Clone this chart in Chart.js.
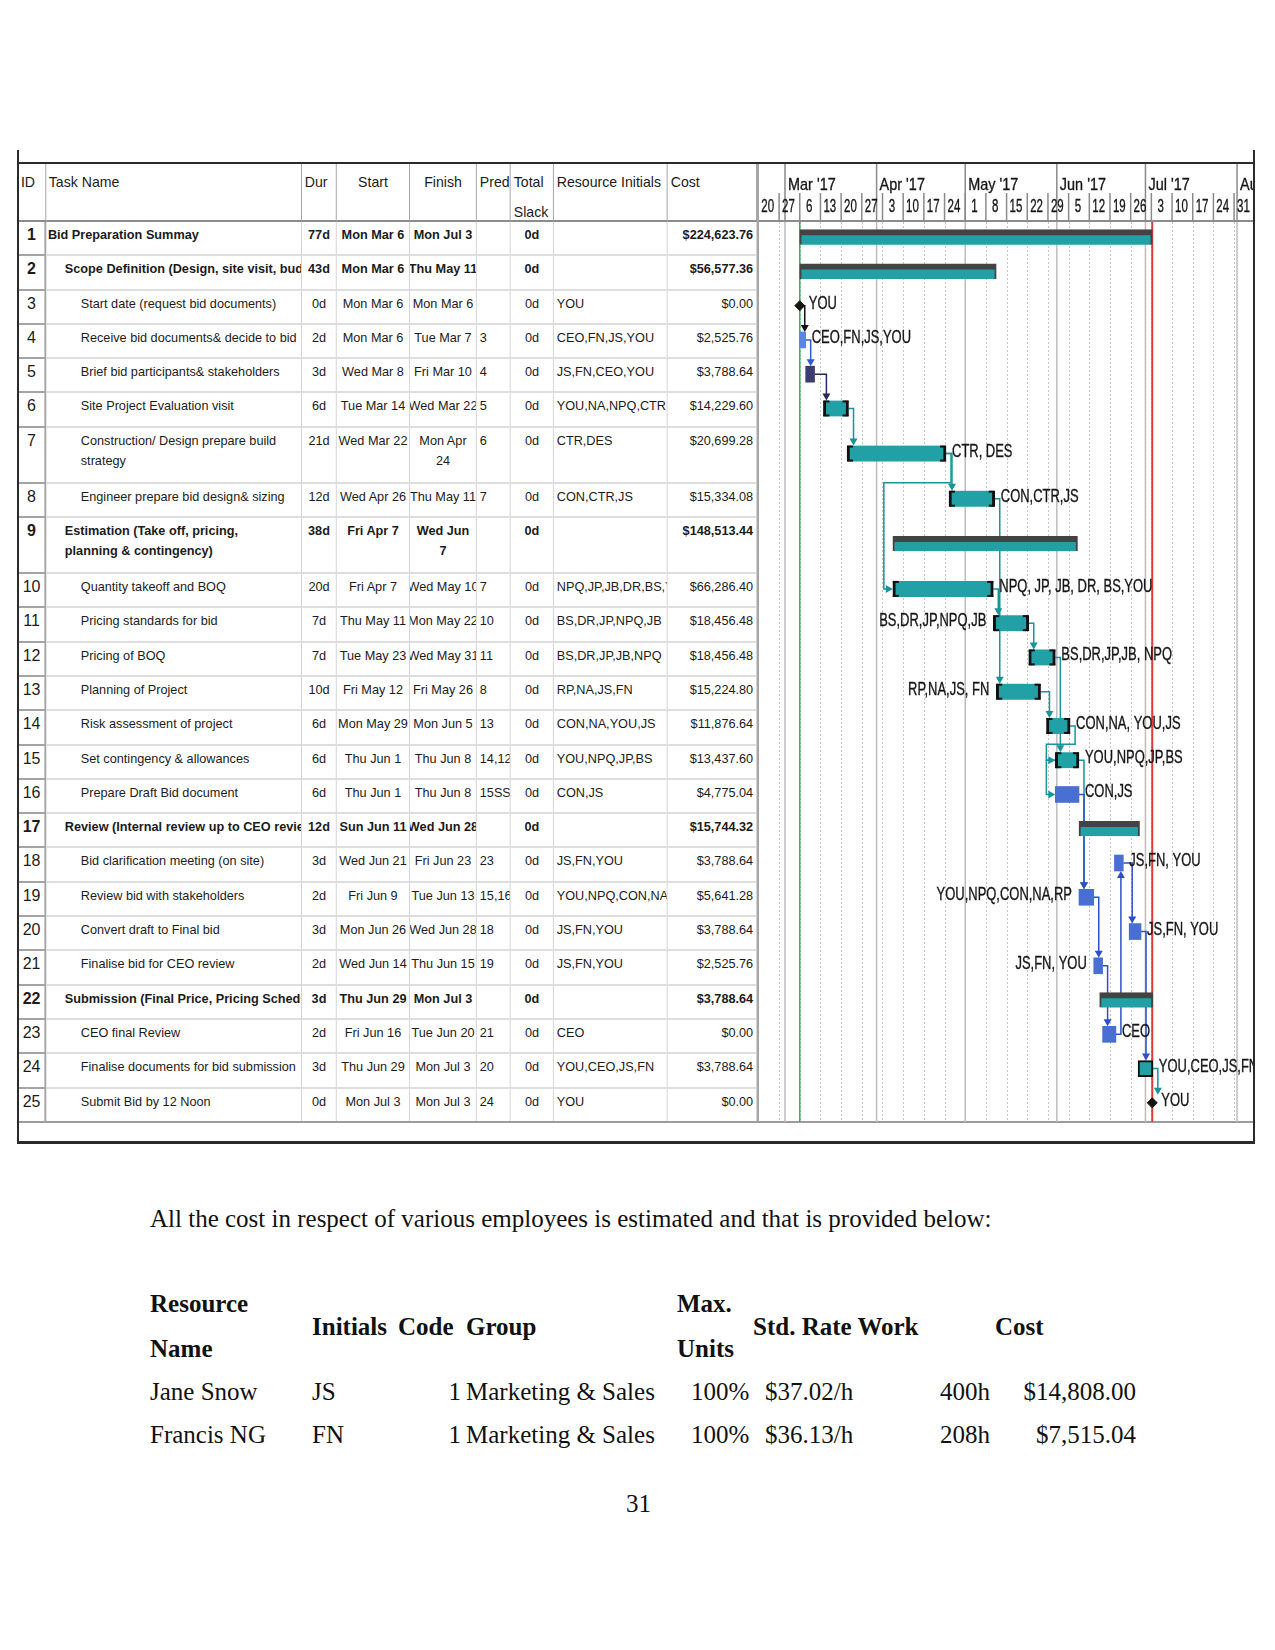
<!DOCTYPE html>
<html>
<head>
<meta charset="utf-8">
<title>Bid preparation schedule</title>
<script src="https://cdn.jsdelivr.net/npm/chart.js@4.4.1/dist/chart.umd.min.js"></script>
<style>
  html, body { margin: 0; padding: 0; background: #fff; }
  body { position: relative; width: 1275px; height: 1650px; overflow: hidden; font-family: "Liberation Sans", Arial, sans-serif; color: #1b1b1b; }
  .line { position: absolute; background: #2a2a2a; }
  #grid { position: absolute; left: 19px; top: 164px; width: 785.11px; transform: scaleX(0.94); transform-origin: 0 0; }
  #body { position: relative; }
  .row { display: flex; box-sizing: border-box; }
  .cell { box-sizing: border-box; overflow: hidden; white-space: nowrap; border-right: 1px solid #d2d2d2; border-bottom: 2px solid #dedede; padding: 3px 3px 0 3px; font-size: 13.5px; line-height: 20px; }
  .cell.name { padding-right: 8px; }
  .head .cell { border-right-color: #a0a0a0; border-bottom: 2px solid #8c8c8c; font-size: 15px; line-height: 30px; padding-top: 3px; }
  .head .cell.two { white-space: normal; }
  .cell.id { text-align: center; font-size: 17px; border-right: 2px solid #a4a4a4; border-bottom: 2px solid #a4a4a4; padding: 3px 0 0; }
  .cell.mid { display: flex; justify-content: center; padding: 3px 4px 0; }
  .cell.mid span { text-align: center; }
  .cell.right { text-align: right; }
  .row.sum .cell { font-weight: bold; }
  .row.wrap .cell.name, .row.wrap .cell.fin { white-space: normal; }
  #gantt { position: absolute; left: 759px; top: 164px; }
  .txt { position: absolute; font-family: "Liberation Serif", "Times New Roman", serif; font-size: 25px; line-height: 30px; white-space: nowrap; color: #111; }
  .txt.b { font-weight: bold; }
</style>
</head>
<body>
<div class="line" style="left:17px;top:150px;width:2px;height:994px"></div>
<div class="line" style="left:1253px;top:150px;width:2px;height:994px"></div>
<div class="line" style="left:17px;top:162px;width:1238px;height:2px"></div>
<div class="line" style="left:17px;top:1141px;width:1238px;height:3px"></div>

<div id="grid">
  <div class="row head" id="head"></div>
  <div id="body"></div>
</div>
<div class="line" style="left:757px;top:164px;width:2px;height:959px;background:#a6a6a6"></div>
<div class="line" style="left:19px;top:1121px;width:1234px;height:2px;background:#9c9c9c"></div>
<canvas id="gantt"></canvas>

<div id="below"></div>

<script>
// ---- schedule table ----
const taskIds = [1, 2, 3, 4, 5, 6, 7, 8, 9, 10, 11, 12, 13, 14, 15, 16, 17, 18, 19, 20, 21, 22, 23, 24, 25];
const taskNames = [
  'Bid Preparation  Summay',
  'Scope Definition (Design, site visit, budget)',
  'Start date (request bid documents)',
  'Receive bid documents& decide to bid',
  'Brief bid participants& stakeholders',
  'Site Project Evaluation visit',
  'Construction/ Design prepare build strategy',
  'Engineer prepare bid design& sizing',
  'Estimation (Take off, pricing, planning & contingency)',
  'Quantity takeoff and BOQ',
  'Pricing standards for bid',
  'Pricing of BOQ',
  'Planning of Project',
  'Risk assessment of project',
  'Set contingency & allowances',
  'Prepare Draft Bid document',
  'Review (Internal review up to CEO review)',
  'Bid clarification meeting (on site)',
  'Review bid with stakeholders',
  'Convert draft to Final bid',
  'Finalise bid for CEO review',
  'Submission (Final Price, Pricing Schedule)',
  'CEO final Review',
  'Finalise documents for bid submission',
  'Submit Bid by 12 Noon'
];
const outlineLevel = [0, 1, 2, 2, 2, 2, 2, 2, 1, 2, 2, 2, 2, 2, 2, 2, 1, 2, 2, 2, 2, 1, 2, 2, 2];
const durations = ['77d', '43d', '0d', '2d', '3d', '6d', '21d', '12d', '38d', '20d', '7d', '7d', '10d', '6d', '6d', '6d', '12d', '3d', '2d', '3d', '2d', '3d', '2d', '3d', '0d'];
const startText = ['Mon Mar 6', 'Mon Mar 6', 'Mon Mar 6', 'Mon Mar 6', 'Wed Mar 8', 'Tue Mar 14', 'Wed Mar 22', 'Wed Apr 26', 'Fri Apr 7', 'Fri Apr 7',
  'Thu May 11', 'Tue May 23', 'Fri May 12', 'Mon May 29', 'Thu Jun 1', 'Thu Jun 1', 'Sun Jun 11', 'Wed Jun 21', 'Fri Jun 9', 'Mon Jun 26',
  'Wed Jun 14', 'Thu Jun 29', 'Fri Jun 16', 'Thu Jun 29', 'Mon Jul 3'];
const finishText = ['Mon Jul 3', 'Thu May 11', 'Mon Mar 6', 'Tue Mar 7', 'Fri Mar 10', 'Wed Mar 22', 'Mon Apr 24', 'Thu May 11', 'Wed Jun 7', 'Wed May 10',
  'Mon May 22', 'Wed May 31', 'Fri May 26', 'Mon Jun 5', 'Thu Jun 8', 'Thu Jun 8', 'Wed Jun 28', 'Fri Jun 23', 'Tue Jun 13', 'Wed Jun 28',
  'Thu Jun 15', 'Mon Jul 3', 'Tue Jun 20', 'Mon Jul 3', 'Mon Jul 3'];
const predText = ['', '', '', '3', '4', '5', '6', '7', '', '7', '10', '11', '8', '13', '14,12', '15SS', '', '23', '15,16', '18', '19', '', '21', '20', '24'];
const totalSlack = ['0d', '0d', '0d', '0d', '0d', '0d', '0d', '0d', '0d', '0d', '0d', '0d', '0d', '0d', '0d', '0d', '0d', '0d', '0d', '0d', '0d', '0d', '0d', '0d', '0d'];
const resourceText = ['', '', 'YOU', 'CEO,FN,JS,YOU', 'JS,FN,CEO,YOU', 'YOU,NA,NPQ,CTR', 'CTR,DES', 'CON,CTR,JS', '', 'NPQ,JP,JB,DR,BS,YOU',
  'BS,DR,JP,NPQ,JB', 'BS,DR,JP,JB,NPQ', 'RP,NA,JS,FN', 'CON,NA,YOU,JS', 'YOU,NPQ,JP,BS', 'CON,JS', '', 'JS,FN,YOU', 'YOU,NPQ,CON,NA,RP', 'JS,FN,YOU',
  'JS,FN,YOU', '', 'CEO', 'YOU,CEO,JS,FN', 'YOU'];
const costText = ['$224,623.76', '$56,577.36', '$0.00', '$2,525.76', '$3,788.64', '$14,229.60', '$20,699.28', '$15,334.08', '$148,513.44', '$66,286.40',
  '$18,456.48', '$18,456.48', '$15,224.80', '$11,876.64', '$13,437.60', '$4,775.04', '$15,744.32', '$3,788.64', '$5,641.28', '$3,788.64',
  '$2,525.76', '$3,788.64', '$0.00', '$3,788.64', '$0.00'];

// ---- gantt bars: days counted from Mar 1 2017 ----
const taskMode = ['summary', 'summary', 'milestone', 'auto', 'auto', 'manual', 'manual', 'manual', 'summary', 'manual',
  'manual', 'manual', 'manual', 'manual', 'manual', 'auto', 'summary', 'auto', 'auto', 'auto',
  'auto', 'summary', 'auto', 'manual', 'milestone'];
const barStart = [5, 5, 5, 5, 7, 13, 21, 55.5, 36.5, 36.5, 70.5, 82.5, 71.5, 88.5, 91.5, 91.5, 99.5, 111.5, 99.5, 116.5, 104.5, 106.5, 107.5, 119.5, 124.3];
const barEnd = [124.3, 71.5, 5, 7, 10, 21.5, 54.5, 71, 99, 70.5, 82.5, 91.5, 86.5, 96.5, 99.5, 99.5, 120, 114.5, 104.5, 120.5, 107.5, 124.5, 112, 124.5, 124.3];
const ganttLabels = ['', '', 'YOU', 'CEO,FN,JS,YOU', '', '', 'CTR, DES', 'CON,CTR,JS', '', 'NPQ, JP, JB, DR, BS,YOU',
  'BS,DR,JP,NPQ,JB', 'BS,DR,JP,JB, NPQ', 'RP,NA,JS, FN', 'CON,NA, YOU,JS', 'YOU,NPQ,JP,BS', 'CON,JS', '', 'JS,FN, YOU', 'YOU,NPQ,CON,NA,RP', 'JS,FN, YOU',
  'JS,FN, YOU', '', 'CEO', 'YOU,CEO,JS,FN', 'YOU'];
const projectStart = 5;     // Mon Mar 6
const bidDeadline = 124.3;  // Mon Jul 3

// ---- timescale ----
const weekTicks = [-9, -2, 5, 12, 19, 26, 33, 40, 47, 54, 61, 68, 75, 82, 89, 96, 103, 110, 117, 124, 131, 138, 145, 152];
const weekLabels = ['20', '27', '6', '13', '20', '27', '3', '10', '17', '24', '1', '8', '15', '22', '29', '5', '12', '19', '26', '3', '10', '17', '24', '31'];
const monthTicks = [0, 31, 61, 92, 122, 153];
const monthLabels = ["Mar '17", "Apr '17", "May '17", "Jun '17", "Jul '17", "Aug '17"];

// ---- resource cost table ----
const resNames = ['Jane Snow', 'Francis NG'];
const resInitials = ['JS', 'FN'];
const resCode = ['1', '1'];
const resGroup = ['Marketing & Sales', 'Marketing & Sales'];
const resMaxUnits = ['100%', '100%'];
const resRate = ['$37.02/h', '$36.13/h'];
const resWork = ['400h', '208h'];
const resCost = ['$14,808.00', '$7,515.04'];

// layout / style
const colWidths = [28.72, 272.34, 37.23, 77.66, 71.28, 36.17, 45.74, 121.28, 94.69];
const indentPx = [2, 20, 37];
const wrapRows = [7, 9];
const TEAL = '#21a0a5';
const BLUE = '#4a6fd3';
const barColourOverride = { 4: '#5a85e4', 5: '#3d3b70' };
const linkColourOverride = { 3: '#111111', 4: '#2f5bd6', 5: '#28275e' };
const leftLabelIds = [11, 13, 19, 21];
const boxIds = [24];
const BAR_H = 16;

function cell(text, cls, width, extra) {
  const d = document.createElement('div');
  d.className = 'cell ' + (cls || '');
  d.style.width = width + 'px';
  if (cls && cls.includes('mid')) {
    const s = document.createElement('span');
    s.textContent = text;
    d.appendChild(s);
  } else {
    d.textContent = text;
  }
  if (extra) Object.assign(d.style, extra);
  return d;
}

const head = document.getElementById('head');
head.style.height = '58px';
[['ID', ''], ['Task Name', ''], ['Dur', ''], ['Start', 'mid'], ['Finish', 'mid'], ['Predecessors', ''], ['Total Slack', 'two'], ['Resource Initials', ''], ['Cost', '']]
  .forEach((h, c) => head.appendChild(cell(h[0], h[1], colWidths[c], c === 0 ? { paddingLeft: '2px' } : null)));

const body = document.getElementById('body');
taskIds.forEach((id, i) => {
  const r = document.createElement('div');
  const isSum = taskMode[i] === 'summary';
  const wraps = wrapRows.includes(id);
  r.className = 'row' + (isSum ? ' sum' : '') + (wraps ? ' wrap' : '');
  r.style.height = (wraps ? 56 : 34.3) + 'px';
  r.appendChild(cell(String(id), 'id', colWidths[0]));
  r.appendChild(cell(taskNames[i], 'name', colWidths[1], { paddingLeft: indentPx[outlineLevel[i]] + 'px' }));
  r.appendChild(cell(durations[i], 'mid', colWidths[2]));
  r.appendChild(cell(startText[i], 'mid', colWidths[3]));
  r.appendChild(cell(finishText[i], 'mid fin', colWidths[4]));
  r.appendChild(cell(predText[i], '', colWidths[5]));
  r.appendChild(cell(totalSlack[i], 'mid', colWidths[6]));
  r.appendChild(cell(resourceText[i], '', colWidths[7]));
  r.appendChild(cell(costText[i], 'right', colWidths[8]));
  body.appendChild(r);
});

// row centres taken from the rendered table so bars line up with it
const rowEls = Array.from(body.children);
const bodyTop = body.getBoundingClientRect().top;
const bodyH = body.getBoundingClientRect().height;
const rowCenter = rowEls.map(r => { const b = r.getBoundingClientRect(); return b.top - bodyTop + b.height / 2; });
const HEADER_H = 58;

const canvas = document.getElementById('gantt');
canvas.width = 494;
canvas.height = HEADER_H + bodyH;

function links(i) {
  if (!predText[i]) return [];
  return predText[i].split(',').map(p => ({ from: parseInt(p, 10) - 1, ss: /SS/.test(p) }));
}

function barColour(i) {
  if (barColourOverride[taskIds[i]]) return barColourOverride[taskIds[i]];
  return taskMode[i] === 'auto' ? BLUE : TEAL;
}

function linkColour(i) {
  if (linkColourOverride[taskIds[i]]) return linkColourOverride[taskIds[i]];
  return taskMode[i] === 'auto' ? '#2d50c6' : '#17959a';
}

function rowsOf(mode) {
  return taskIds.map((_, i) => i).filter(i => taskMode[i] === mode);
}

function barData(mode) {
  return rowsOf(mode).map(i => ({ x: [barStart[i], barEnd[i]], y: rowCenter[i], task: i }));
}

function narrowText(ctx, text, x, y, size, squeeze, align, colour) {
  ctx.save();
  ctx.translate(x, y);
  ctx.scale(squeeze, 1);
  ctx.font = size + 'px "Liberation Sans", Arial, sans-serif';
  ctx.fillStyle = colour || '#161616';
  ctx.strokeStyle = colour || '#161616';
  ctx.lineWidth = 0.35;
  ctx.textAlign = align;
  ctx.textBaseline = 'middle';
  ctx.fillText(text, 0, 0);
  ctx.strokeText(text, 0, 0);
  ctx.restore();
}

function polyline(ctx, pts) {
  ctx.beginPath();
  ctx.moveTo(pts[0][0], pts[0][1]);
  pts.slice(1).forEach(p => ctx.lineTo(p[0], p[1]));
  ctx.stroke();
}

function arrow(ctx, x, y, dir) {
  ctx.beginPath();
  if (dir === 'down') { ctx.moveTo(x - 4, y - 7); ctx.lineTo(x + 4, y - 7); ctx.lineTo(x, y); }
  else if (dir === 'up') { ctx.moveTo(x - 4, y + 7); ctx.lineTo(x + 4, y + 7); ctx.lineTo(x, y); }
  else { ctx.moveTo(x - 7, y - 4); ctx.lineTo(x - 7, y + 4); ctx.lineTo(x, y); }
  ctx.closePath();
  ctx.fill();
}

const ganttDecor = {
  id: 'ganttDecor',
  beforeDatasetsDraw(chart) {
    const { ctx, chartArea: a, scales: { x, y } } = chart;
    ctx.save();
    // weekly dotted grid and solid month lines
    ctx.lineWidth = 1;
    ctx.strokeStyle = '#c4c4c4';
    ctx.setLineDash([2, 2]);
    weekTicks.forEach(w => {
      const px = Math.round(x.getPixelForValue(w)) + 0.5;
      if (px > a.left && px < a.right) polyline(ctx, [[px, a.top], [px, a.bottom]]);
    });
    ctx.setLineDash([]);
    ctx.lineWidth = 1.5;
    ctx.strokeStyle = '#bcbcbc';
    monthTicks.forEach(m => {
      const px = x.getPixelForValue(m);
      if (px > a.left && px < a.right) polyline(ctx, [[px, a.top], [px, a.bottom]]);
    });
    // status lines
    ctx.strokeStyle = '#35b15a';
    polyline(ctx, [[x.getPixelForValue(projectStart), a.top], [x.getPixelForValue(projectStart), a.bottom]]);
    ctx.lineWidth = 2;
    ctx.strokeStyle = '#e23a3a';
    polyline(ctx, [[x.getPixelForValue(bidDeadline), a.top], [x.getPixelForValue(bidDeadline), a.bottom]]);

    // dependency links
    const half = BAR_H / 2;
    ctx.lineWidth = 1.5;
    taskIds.forEach((id, si) => {
      links(si).forEach(({ from: pi, ss }) => {
        const col = linkColour(pi);
        ctx.strokeStyle = col;
        ctx.fillStyle = col;
        const yP = y.getPixelForValue(rowCenter[pi]);
        const yS = y.getPixelForValue(rowCenter[si]);
        const xsS = x.getPixelForValue(barStart[si]);
        if (ss) {
          const xsP = x.getPixelForValue(barStart[pi]);
          const xl = Math.min(xsP, xsS) - 9;
          polyline(ctx, [[xsP, yP], [xl, yP], [xl, yS], [xsS - 5, yS]]);
          arrow(ctx, xsS, yS, 'right');
          return;
        }
        const xe = x.getPixelForValue(barEnd[pi]);
        if (xsS >= xe - 3) {
          const xv = Math.max(xe + 5, xsS + 3);
          if (yS > yP) {
            polyline(ctx, [[xe, yP], [xv, yP], [xv, yS - half - 5]]);
            arrow(ctx, xv, yS - half, 'down');
          } else {
            polyline(ctx, [[xe, yP], [xv, yP], [xv, yS + half + 5]]);
            arrow(ctx, xv, yS + half, 'up');
          }
        } else {
          const xv = xe + 5;
          const yMid = y.getPixelForValue(rowCenter[pi + 1]) - 16;
          const xl = xsS - 9;
          polyline(ctx, [[xe, yP], [xv, yP], [xv, yMid], [xl, yMid], [xl, yS], [xsS - 5, yS]]);
          arrow(ctx, xsS, yS, 'right');
        }
      });
    });
    ctx.restore();
  },
  afterDatasetsDraw(chart) {
    const { ctx, scales: { x, y } } = chart;
    // bracket feet on manually scheduled bars
    const manual = chart.data.datasets[1];
    chart.getDatasetMeta(1).data.forEach((el, j) => {
      const i = manual.data[j].task;
      if (boxIds.includes(taskIds[i])) return;
      const p = el.getProps(['x', 'y', 'base', 'height'], true);
      const top = p.y - p.height / 2, bot = p.y + p.height / 2;
      ctx.fillStyle = '#111';
      ctx.fillRect(p.base, top, 6, 2);
      ctx.fillRect(p.base, bot - 2, 6, 2);
      ctx.fillRect(p.x - 6, top, 6, 2);
      ctx.fillRect(p.x - 6, bot - 2, 6, 2);
    });
    // resource names beside bars
    ganttLabels.forEach((text, i) => {
      if (!text) return;
      const yc = y.getPixelForValue(rowCenter[i]) - 2;
      if (leftLabelIds.includes(taskIds[i])) {
        narrowText(ctx, text, x.getPixelForValue(barStart[i]) - 7, yc, 18, 0.72, 'right');
      } else {
        const xr = taskMode[i] === 'milestone' ? x.getPixelForValue(barStart[i]) + 9 : x.getPixelForValue(barEnd[i]) + 6;
        narrowText(ctx, text, xr, yc, 18, 0.72, 'left');
      }
    });
  },
  afterDraw(chart) {
    const { ctx, chartArea: a, scales: { x } } = chart;
    ctx.save();
    ctx.strokeStyle = '#8a8a8a';
    ctx.lineWidth = 1.5;
    monthTicks.forEach((m, k) => {
      const px = x.getPixelForValue(m);
      polyline(ctx, [[px, 0], [px, a.top]]);
      narrowText(ctx, monthLabels[k], px + 3, 21, 17, 0.85, 'left');
    });
    weekTicks.forEach((w, k) => {
      const px = x.getPixelForValue(w);
      const nx = x.getPixelForValue(w + 7);
      ctx.strokeStyle = '#8a8a8a';
      ctx.lineWidth = 1.5;
      if (px >= a.left) polyline(ctx, [[px, 29], [px, a.top]]);
      narrowText(ctx, weekLabels[k], (px + nx) / 2 - 1, 43, 18, 0.64, 'center');
    });
    ctx.fillStyle = '#8c8c8c';
    ctx.fillRect(a.left, a.top - 2, a.right - a.left, 2);
    ctx.restore();
  }
};

new Chart(canvas, {
  type: 'bar',
  data: {
    datasets: [
      {
        label: 'Summary',
        data: barData('summary'),
        backgroundColor: TEAL,
        borderColor: '#434343',
        borderWidth: { top: 6, left: 2, right: 2, bottom: 0 },
        borderSkipped: false,
        barThickness: 15
      },
      {
        label: 'Manually scheduled',
        data: barData('manual'),
        backgroundColor: ctx => barColour(ctx.raw.task),
        borderColor: '#111',
        borderWidth: ctx => boxIds.includes(taskIds[ctx.raw.task]) ? 2 : { left: 3, right: 3, top: 0, bottom: 0 },
        borderSkipped: false,
        barThickness: BAR_H
      },
      {
        label: 'Auto scheduled',
        data: barData('auto'),
        backgroundColor: ctx => barColour(ctx.raw.task),
        borderWidth: 0,
        barThickness: BAR_H
      },
      {
        type: 'scatter',
        label: 'Milestone',
        data: rowsOf('milestone').map(i => ({ x: barStart[i], y: rowCenter[i] })),
        pointStyle: 'rectRot',
        pointRadius: 5,
        backgroundColor: '#151515',
        borderColor: '#151515'
      }
    ]
  },
  options: {
    responsive: false,
    animation: false,
    devicePixelRatio: 1,
    indexAxis: 'y',
    grouped: false,
    layout: { padding: { top: HEADER_H, left: 0, right: 0, bottom: 0 }, autoPadding: false },
    plugins: { legend: { display: false }, tooltip: { enabled: false } },
    scales: {
      x: { type: 'linear', position: 'bottom', min: -8.8, max: 158.4, offset: false, display: false },
      y: { type: 'linear', min: 2, max: bodyH + 2, reverse: true, offset: false, grid: { offset: false }, display: false }
    }
  },
  plugins: [ganttDecor]
});

// ---- text under the chart ----
const below = document.getElementById('below');
function put(text, left, cy, bold, rightEdge) {
  const d = document.createElement('div');
  d.className = 'txt' + (bold ? ' b' : '');
  d.textContent = text;
  d.style.top = (cy - 15) + 'px';
  if (rightEdge) { d.style.right = (1275 - rightEdge) + 'px'; } else { d.style.left = left + 'px'; }
  below.appendChild(d);
}
put('All the cost in respect of various employees is estimated and that is provided below:', 150, 1219);
put('Resource', 150, 1304, true);
put('Name', 150, 1349, true);
put('Initials', 312, 1327, true);
put('Code', 398, 1327, true);
put('Group', 466, 1327, true);
put('Max.', 677, 1304, true);
put('Units', 677, 1349, true);
put('Std. Rate Work', 753, 1327, true);
put('Cost', 995, 1327, true);
resNames.forEach((n, k) => {
  const cy = 1392 + k * 43;
  put(n, 150, cy);
  put(resInitials[k], 312, cy);
  put(resCode[k], 0, cy, false, 461);
  put(resGroup[k], 466, cy);
  put(resMaxUnits[k], 691, cy);
  put(resRate[k], 765, cy);
  put(resWork[k], 940, cy);
  put(resCost[k], 0, cy, false, 1136);
});
put('31', 626, 1504);
</script>
</body>
</html>
